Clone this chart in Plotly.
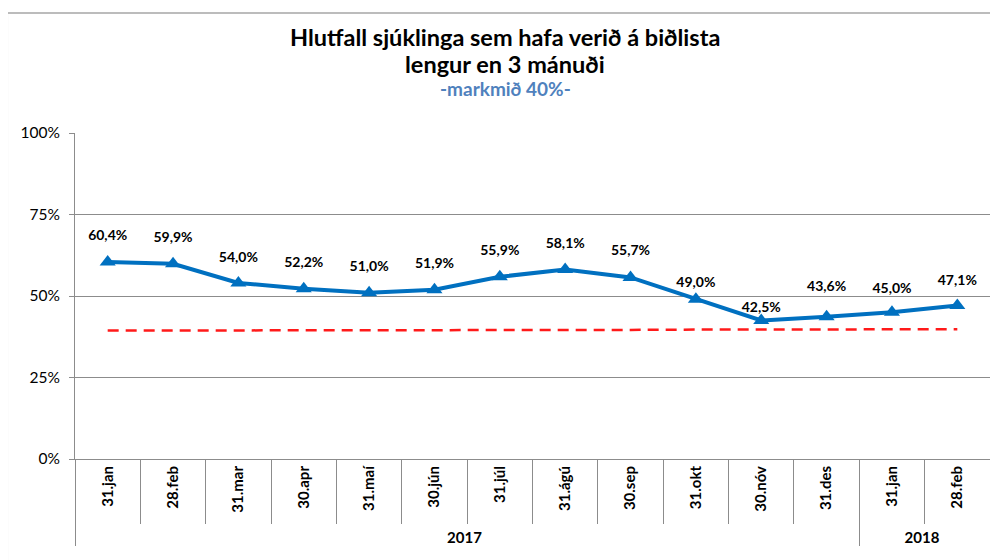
"""Hlutfall sjúklinga á biðlista lengur en 3 mánuði - line chart with target line."""

import plotly.graph_objects as go

# data
years = ["2017"] * 12 + ["2018"] * 2
months = [
    "31.jan", "28.feb", "31.mar", "30.apr", "31.maí", "30.jún", "31.júl",
    "31.ágú", "30.sep", "31.okt", "30.nóv", "31.des", "31.jan", "28.feb",
]
share = [60.4, 59.9, 54.0, 52.2, 51.0, 51.9, 55.9, 58.1, 55.7, 49.0, 42.5, 43.6, 45.0, 47.1]
target = [39.4, 39.4, 39.4, 39.5, 39.5, 39.5, 39.6, 39.6, 39.6, 39.7, 39.7, 39.7, 39.8, 39.8]
y_ticks = [0, 25, 50, 75, 100]
y_tick_text = ["0%", "25%", "50%", "75%", "100%"]

labels = [("%.1f%%" % v).replace(".", ",") for v in share]
# spacing of the data labels above the points (varies a bit like in Excel)
label_gap = [28, 28, 27, 27, 27, 28, 28, 28, 28, 12, 6, 34, 24, 26]

FONT = "Lato"
GRID = "#8c8c8c"

fig = go.Figure()

# target line (markmið)
fig.add_trace(
    go.Scatter(
        x=[years, months],
        y=target,
        mode="lines",
        line=dict(color="#ff1a1a", width=2.5, dash="11px,7px"),
        hoverinfo="skip",
        showlegend=False,
    )
)

# main series
fig.add_trace(
    go.Scatter(
        x=[years, months],
        y=share,
        mode="lines+markers",
        line=dict(color="#0070c0", width=4),
        marker=dict(symbol="triangle-up", size=14, color="#0070c0"),
        showlegend=False,
    )
)

# data labels (invisible markers push the text up)
fig.add_trace(
    go.Scatter(
        x=[years, months],
        y=share,
        mode="markers+text",
        text=labels,
        textposition="top center",
        textfont=dict(family=FONT, size=14, color="black", weight="bold"),
        marker=dict(size=label_gap, color="rgba(0,0,0,0)", line=dict(width=0)),
        hoverinfo="skip",
        showlegend=False,
    )
)

# title lines as annotations so the spacing can be set
title_lines = [
    ("<b>Hlutfall sjúklinga sem hafa verið á biðlista</b>", 1.2945, 23.5, "black"),
    ("<b>lengur en 3 mánuði</b>", 1.2117, 23.5, "black"),
    ("<b>-markmið 40%-</b>", 1.138, 19, "#4f81bd"),
]
annotations = [
    dict(
        text=txt,
        xref="paper",
        yref="paper",
        x=0.47,
        y=ypos,
        xanchor="center",
        yanchor="middle",
        showarrow=False,
        font=dict(family=FONT, size=size, color=color),
    )
    for txt, ypos, size, color in title_lines
]

# page body has an 8px margin, so the figure is 8px smaller on each side
fig.update_layout(
    width=990,
    height=552,
    margin=dict(l=67, r=8, t=125, b=101),
    paper_bgcolor="white",
    plot_bgcolor="white",
    font=dict(family=FONT, color="black"),
    annotations=annotations,
    shapes=[
        dict(
            type="rect",
            xref="paper",
            yref="paper",
            x0=-0.074,
            x1=1.03,
            y0=-0.4,
            y1=1.368,
            line=dict(color="#a6a6a6", width=1.5),
            layer="below",
        )
    ],
)

fig.update_yaxes(
    range=[0, 100],
    tickvals=y_ticks,
    ticktext=y_tick_text,
    automargin=False,
    showgrid=True,
    gridcolor=GRID,
    gridwidth=1,
    showline=True,
    linecolor=GRID,
    linewidth=1,
    ticks="outside",
    ticklen=5,
    tickcolor=GRID,
    ticklabelstandoff=6,
    tickfont=dict(family=FONT, size=15.5, color="black"),
    zeroline=False,
)

fig.update_xaxes(
    type="multicategory",
    range=[-0.5, 13.5],
    automargin=False,
    showline=True,
    linecolor=GRID,
    linewidth=1,
    ticks="outside",
    tickson="boundaries",
    ticklen=64,
    tickcolor=GRID,
    tickangle=-90,
    tickfont=dict(family=FONT, size=15, color="black", weight="bold"),
    showdividers=True,
    dividercolor=GRID,
    dividerwidth=1,
    showgrid=False,
)

fig.write_html("out.html")
